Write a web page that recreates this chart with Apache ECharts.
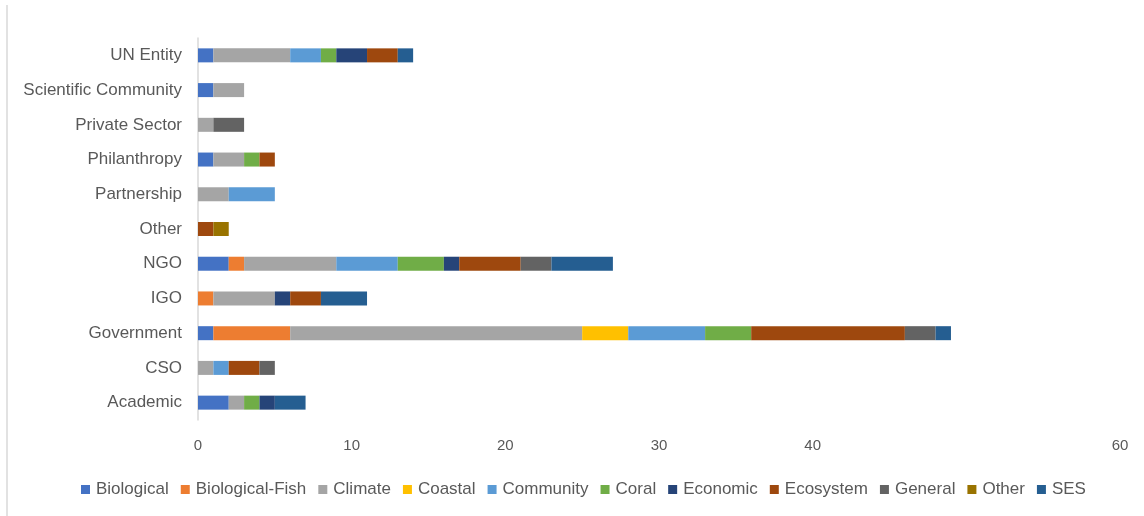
<!DOCTYPE html>
<html>
<head>
<meta charset="utf-8">
<script src="https://cdn.jsdelivr.net/npm/echarts@6/dist/echarts.min.js"></script>
<style>
  html, body { margin: 0; padding: 0; background: #fff; }
  #chart { width: 1144px; height: 516px; }
</style>
</head>
<body>
<div id="chart"></div>
<script>
// Organisation types, listed from the bottom of the axis to the top
const categories = ['Academic', 'CSO', 'Government', 'IGO', 'NGO', 'Other',
  'Partnership', 'Philanthropy', 'Private Sector', 'Scientific Community', 'UN Entity'];

// Counts per focus area, one value per organisation type
const biological     = [2, 0, 1, 0, 2, 0, 0, 1, 0, 1, 1];
const biologicalFish = [0, 0, 5, 1, 1, 0, 0, 0, 0, 0, 0];
const climate        = [1, 1, 19, 4, 6, 0, 2, 2, 1, 2, 5];
const coastal        = [0, 0, 3, 0, 0, 0, 0, 0, 0, 0, 0];
const community      = [0, 1, 5, 0, 4, 0, 3, 0, 0, 0, 2];
const coral          = [1, 0, 3, 0, 3, 0, 0, 1, 0, 0, 1];
const economic       = [1, 0, 0, 1, 1, 0, 0, 0, 0, 0, 2];
const ecosystem      = [0, 2, 10, 2, 4, 1, 0, 1, 0, 0, 2];
const general        = [0, 1, 2, 0, 2, 0, 0, 0, 2, 0, 0];
const other          = [0, 0, 0, 0, 0, 1, 0, 0, 0, 0, 0];
const ses            = [2, 0, 1, 3, 4, 0, 0, 0, 0, 0, 1];

// Value-axis tick labels that are printed (50 is left blank on this axis)
const xTickLabels = ['0', '10', '20', '30', '40', '', '60'];
const xMin = 0, xMax = 60, xStep = 10;

const seriesDefs = [
  ['Biological', biological, '#4472C4'],
  ['Biological-Fish', biologicalFish, '#ED7D31'],
  ['Climate', climate, '#A5A5A5'],
  ['Coastal', coastal, '#FFC000'],
  ['Community', community, '#5B9BD5'],
  ['Coral', coral, '#70AD47'],
  ['Economic', economic, '#264478'],
  ['Ecosystem', ecosystem, '#9E480E'],
  ['General', general, '#636363'],
  ['Other', other, '#997300'],
  ['SES', ses, '#255E91']
];

const FONT = '"Liberation Sans", Arial, sans-serif';

const chart = echarts.init(document.getElementById('chart'), null, { renderer: 'canvas' });

chart.setOption({
  animation: false,
  backgroundColor: '#ffffff',
  textStyle: { fontFamily: FONT },
  graphic: [{
    type: 'line',
    shape: { x1: 7, y1: 5, x2: 7, y2: 516 },
    style: { stroke: '#d9d9d9', lineWidth: 1.5 }
  }],
  grid: { left: 198, right: 24, top: 38, bottom: 96 },
  legend: {
    bottom: 13,
    left: 76,
    itemWidth: 9,
    itemHeight: 9,
    itemGap: 12,
    icon: 'rect',
    textStyle: { fontFamily: FONT, fontSize: 17, color: '#595959', padding: [0, 0, 0, 1] },
    data: seriesDefs.map(d => d[0])
  },
  xAxis: {
    type: 'value',
    min: xMin,
    max: xMax,
    interval: xStep,
    axisLine: { show: false },
    axisTick: { show: false },
    splitLine: { show: false },
    axisLabel: {
      color: '#595959', fontSize: 15, margin: 18, fontFamily: FONT,
      formatter: v => xTickLabels[Math.round((v - xMin) / xStep)]
    }
  },
  yAxis: {
    type: 'category',
    data: categories,
    axisLine: { show: true, lineStyle: { color: '#d9d9d9', width: 1.5 } },
    axisTick: { show: false },
    axisLabel: { color: '#595959', fontSize: 17, margin: 16, fontFamily: FONT }
  },
  series: seriesDefs.map(([name, values, color]) => ({
    name: name,
    type: 'bar',
    stack: 'total',
    barWidth: 14,
    itemStyle: { color: color },
    data: values
  }))
});
</script>
</body>
</html>
